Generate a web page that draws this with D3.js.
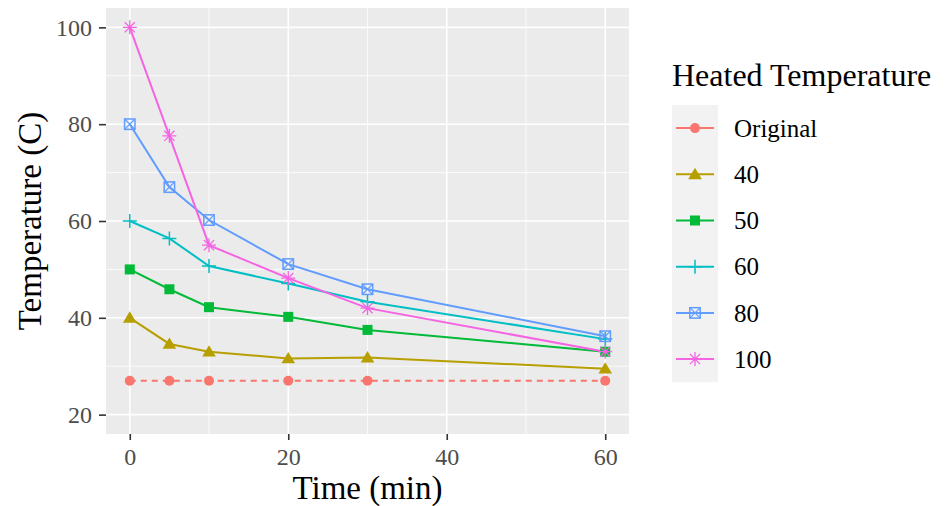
<!DOCTYPE html>
<html>
<head>
<meta charset="utf-8">
<script src="https://cdn.jsdelivr.net/npm/d3@7"></script>
<style>
  html, body { margin: 0; padding: 0; background: #fff; }
  svg { display: block; }
</style>
</head>
<body>
<svg id="chart" width="947" height="506"></svg>
<script>
// Sampling times (min)
const times = [0, 5, 10, 20, 30, 60];

// Temperature readings (C) for each heating level
const seriesNames = ["Original", "40", "50", "60", "80", "100"];
const tempOriginal = [27, 27, 27, 27, 27, 27];
const temp40 = [40, 34.6, 33.0, 31.6, 31.8, 29.5];
const temp50 = [50, 45.9, 42.2, 40.2, 37.5, 33.0];
const temp60 = [60, 56.4, 50.7, 47.1, 43.3, 35.6];
const temp80 = [80, 67, 60.2, 51.1, 45.9, 36.2];
const temp100 = [100, 77.6, 55, 48.2, 42, 33];

const xTicks = [0, 20, 40, 60];
const yTicks = [20, 40, 60, 80, 100];

const colors = ["#F8766D", "#B79F00", "#00BA38", "#00BFC4", "#619CFF", "#F564E3"];
const shapes = ["circle", "triangle", "square", "plus", "squarecross", "asterisk"];

const seriesValues = [tempOriginal, temp40, temp50, temp60, temp80, temp100];
const series = seriesNames.map((name, i) => ({
  name, color: colors[i], shape: shapes[i], dashed: i === 0,
  points: times.map((t, j) => ({ t, v: seriesValues[i][j] }))
}));

const serif = "'Liberation Serif', 'Times New Roman', serif";
const svg = d3.select("#chart");
const panel = { left: 106, right: 629, top: 8, bottom: 434 };

const x = d3.scaleLinear().domain([-3, 63]).range([panel.left, panel.right]);
const y = d3.scaleLinear().domain([16, 104]).range([panel.bottom, panel.top]);

// Panel background
svg.append("rect")
  .attr("x", panel.left).attr("y", panel.top)
  .attr("width", panel.right - panel.left).attr("height", panel.bottom - panel.top)
  .attr("fill", "#EBEBEB");

const grid = svg.append("g");
// Minor grid
[10, 30, 50].forEach(v => grid.append("line")
  .attr("x1", x(v)).attr("x2", x(v)).attr("y1", panel.top).attr("y2", panel.bottom)
  .attr("stroke", "#fff").attr("stroke-width", 0.8));
[30, 50, 70, 90].forEach(v => grid.append("line")
  .attr("y1", y(v)).attr("y2", y(v)).attr("x1", panel.left).attr("x2", panel.right)
  .attr("stroke", "#fff").attr("stroke-width", 0.8));
// Major grid
xTicks.forEach(v => grid.append("line")
  .attr("x1", x(v)).attr("x2", x(v)).attr("y1", panel.top).attr("y2", panel.bottom)
  .attr("stroke", "#fff").attr("stroke-width", 1.6));
yTicks.forEach(v => grid.append("line")
  .attr("y1", y(v)).attr("y2", y(v)).attr("x1", panel.left).attr("x2", panel.right)
  .attr("stroke", "#fff").attr("stroke-width", 1.6));

// Axes
const xAxis = svg.append("g")
  .attr("transform", `translate(0,${panel.bottom})`)
  .call(d3.axisBottom(x).tickValues(xTicks).tickSize(6).tickPadding(8).tickFormat(d3.format("d")));
const yAxis = svg.append("g")
  .attr("transform", `translate(${panel.left},0)`)
  .call(d3.axisLeft(y).tickValues(yTicks).tickSize(7).tickPadding(7).tickFormat(d3.format("d")));
[xAxis, yAxis].forEach(a => {
  a.select(".domain").remove();
  a.selectAll(".tick line").attr("stroke", "#333").attr("stroke-width", 1.6);
  a.selectAll(".tick text")
    .attr("fill", "#4D4D4D")
    .style("font-family", serif)
    .style("font-size", "24px");
});
xAxis.selectAll(".tick text").attr("dy", "0.71em");

// Axis titles
svg.append("text")
  .attr("x", (panel.left + panel.right) / 2).attr("y", 499)
  .attr("text-anchor", "middle")
  .style("font-family", serif)
  .style("font-size", "33px").attr("fill", "#000")
  .text("Time (min)");
svg.append("text")
  .attr("transform", `translate(41,${(panel.top + panel.bottom) / 2}) rotate(-90)`)
  .attr("text-anchor", "middle")
  .style("font-family", serif)
  .style("font-size", "33px").attr("fill", "#000")
  .text("Temperature (C)");

// Marker drawing
function drawMarker(g, shape, color, cx, cy, scale = 1) {
  const s = scale;
  switch (shape) {
    case "circle":
      g.append("circle").attr("cx", cx).attr("cy", cy).attr("r", 5 * s).attr("fill", color);
      break;
    case "triangle": {
      const h = 6.5 * s;
      g.append("path")
        .attr("d", `M${cx},${cy - h} L${cx + h * 1.05},${cy + h * 0.75} L${cx - h * 1.05},${cy + h * 0.75} Z`)
        .attr("fill", color);
      break;
    }
    case "square":
      g.append("rect").attr("x", cx - 5 * s).attr("y", cy - 5 * s)
        .attr("width", 10 * s).attr("height", 10 * s).attr("fill", color);
      break;
    case "plus": {
      const r = 7 * s;
      g.append("path").attr("d", `M${cx - r},${cy} L${cx + r},${cy} M${cx},${cy - r} L${cx},${cy + r}`)
        .attr("stroke", color).attr("stroke-width", 1.5).attr("fill", "none");
      break;
    }
    case "squarecross": {
      const r = 5.2 * s;
      g.append("rect").attr("x", cx - r).attr("y", cy - r).attr("width", 2 * r).attr("height", 2 * r)
        .attr("fill", "none").attr("stroke", color).attr("stroke-width", 1.5);
      g.append("path").attr("d", `M${cx - r},${cy - r} L${cx + r},${cy + r} M${cx + r},${cy - r} L${cx - r},${cy + r}`)
        .attr("stroke", color).attr("stroke-width", 1.2).attr("fill", "none");
      break;
    }
    case "asterisk": {
      const r = 7 * s, d = r * 0.72;
      g.append("path")
        .attr("d", `M${cx - r},${cy} L${cx + r},${cy} M${cx},${cy - r} L${cx},${cy + r} M${cx - d},${cy - d} L${cx + d},${cy + d} M${cx + d},${cy - d} L${cx - d},${cy + d}`)
        .attr("stroke", color).attr("stroke-width", 1.3).attr("fill", "none");
      break;
    }
  }
}

// Lines
const line = d3.line().x(d => x(d.t)).y(d => y(d.v));
const plot = svg.append("g");
series.forEach(s => {
  plot.append("path")
    .datum(s.points)
    .attr("d", line)
    .attr("fill", "none")
    .attr("stroke", s.color)
    .attr("stroke-width", 2)
    .attr("stroke-dasharray", s.dashed ? "6,5" : null);
});
// Points
series.forEach(s => {
  const g = plot.append("g");
  s.points.forEach(p => drawMarker(g, s.shape, s.color, x(p.t), y(p.v)));
});

// Legend
const legend = svg.append("g");
legend.append("text")
  .attr("x", 672).attr("y", 86)
  .style("font-family", serif)
  .style("font-size", "32px").attr("fill", "#000")
  .text("Heated Temperature");
const keyTop = 105, keyStep = 46.2;
legend.append("rect")
  .attr("x", 672).attr("y", keyTop)
  .attr("width", 46).attr("height", keyStep * series.length)
  .attr("fill", "#F2F2F2");
series.forEach((s, i) => {
  const cy = keyTop + keyStep * (i + 0.5);
  const g = legend.append("g");
  g.append("line").attr("x1", 676).attr("x2", 714).attr("y1", cy).attr("y2", cy)
    .attr("stroke", s.color).attr("stroke-width", 2);
  drawMarker(g, s.shape, s.color, 695, cy);
  g.append("text")
    .attr("x", 734).attr("y", cy).attr("dy", "0.35em")
    .style("font-family", serif)
    .style("font-size", "25px").attr("fill", "#000")
    .text(s.name);
});
</script>
</body>
</html>
